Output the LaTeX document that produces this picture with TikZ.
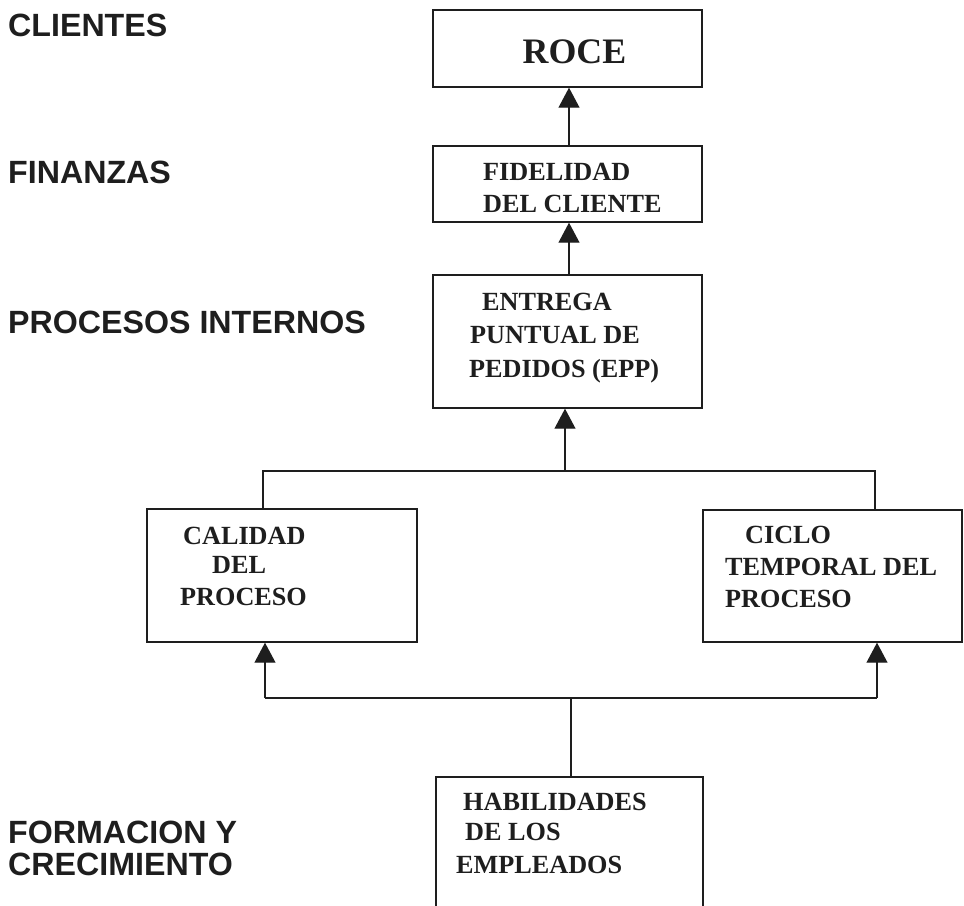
\documentclass[tikz,border=0pt]{standalone}
\usepackage{fontspec}
\setmainfont{Liberation Serif}
\newfontfamily\labelfont{Liberation Sans}
\usetikzlibrary{arrows.meta}
\definecolor{ink}{HTML}{1E1E1E}
\tikzset{
  box/.style={draw=ink, line width=1.4pt, rectangle, inner sep=0pt},
  conn/.style={draw=ink, line width=1.1pt},
  arr/.style={conn, -{Triangle[width=21bp,length=20bp]}},
  boxtxt/.style={anchor=base west, inner sep=0pt, text=ink, font=\bfseries\fontsize{26.3}{30}\selectfont},
  roctxt/.style={anchor=base, inner sep=0pt, text=ink, font=\bfseries\fontsize{36}{40}\selectfont},
  lvl/.style={anchor=base west, inner sep=0pt, text=ink, font=\labelfont\bfseries\fontsize{32.3}{36}\selectfont}
}
\begin{document}
\begin{tikzpicture}[x=1bp, y=-1bp]
\useasboundingbox (0,0) rectangle (964,906);
\clip (0,0) rectangle (964,906);

% perspective labels
\node[lvl] (lcli) at (8,36) {CLIENTES};
\node[lvl] (lfin) at (8,183) {FINANZAS};
\node[lvl] (lpro) at (8,333) {PROCESOS INTERNOS};
\node[lvl] (lfor1) at (8,843) {FORMACION Y};
\node[lvl] (lfor2) at (8,875) {CRECIMIENTO};

% boxes
\node[box, minimum width=269bp, minimum height=77bp] (roce) at (567.5,48.5) {};
\node[box, minimum width=269bp, minimum height=76bp] (fid) at (567.5,184) {};
\node[box, minimum width=269bp, minimum height=133bp] (epp) at (567.5,341.5) {};
\node[box, minimum width=270bp, minimum height=133bp] (cal) at (282,575.5) {};
\node[box, minimum width=259bp, minimum height=132bp] (cic) at (832.5,576) {};
\node[box, minimum width=267bp, minimum height=138bp] (hab) at (569.5,846) {};

% box texts
\node[roctxt] (troce) at (574.5,63) {ROCE};
\node[boxtxt] (tfid1) at (483,180) {FIDELIDAD};
\node[boxtxt] (tfid2) at (483,212) {DEL CLIENTE};
\node[boxtxt] (tepp1) at (482,310) {ENTREGA};
\node[boxtxt] (tepp2) at (470,343) {PUNTUAL DE};
\node[boxtxt] (tepp3) at (469,377) {PEDIDOS (EPP)};
\node[boxtxt] (tcal1) at (183,544) {CALIDAD};
\node[boxtxt] (tcal2) at (212,573) {DEL};
\node[boxtxt] (tcal3) at (180,605) {PROCESO};
\node[boxtxt] (tcic1) at (745,543) {CICLO};
\node[boxtxt] (tcic2) at (725,575) {TEMPORAL DEL};
\node[boxtxt] (tcic3) at (725,607) {PROCESO};
\node[boxtxt] (thab1) at (463,810) {HABILIDADES};
\node[boxtxt] (thab2) at (465,840) {DE LOS};
\node[boxtxt] (thab3) at (456,873) {EMPLEADOS};

% junction points
\coordinate (tl) at (263,471);
\coordinate (tr) at (875,471);
\coordinate (tm) at (565,471);
\coordinate (bl) at (265,698);
\coordinate (br) at (877,698);
\coordinate (bm) at (571,698);
\coordinate (cx) at (569,0);

% connectors
\draw[arr] (fid.north -| cx) -- (roce.south -| cx);
\draw[arr] (epp.north -| cx) -- (fid.south -| cx);
\draw[conn] (cal.north -| tl) -- (tl) -- (tr) -- (cic.north -| tr);
\draw[arr] (tm) -- (epp.south -| tm);
\draw[conn] (hab.north -| bm) -- (bm);
\draw[conn] (bl) -- (br);
\draw[arr] (bl) -- (cal.south -| bl);
\draw[arr] (br) -- (cic.south -| br);
\end{tikzpicture}
\end{document}
